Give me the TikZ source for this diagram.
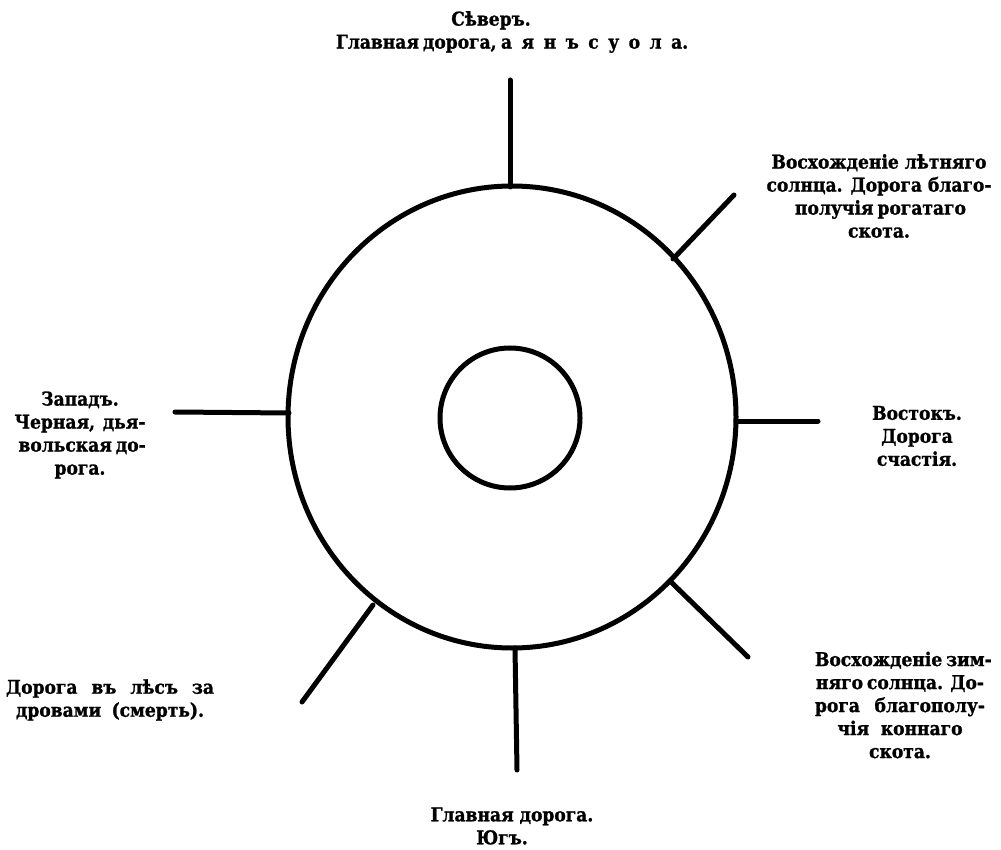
\documentclass[tikz,border=0pt]{standalone}
\usepackage{fontspec}
\setmainfont{DejaVu Serif Condensed}[BoldFeatures={FakeBold=1.2}]
\newcommand{\jline}[2]{\makebox[#1][s]{#2}}
\begin{document}
\begin{tikzpicture}[x=1pt,y=-1pt,
  lbl/.style={font=\fontsize{19}{23}\selectfont\bfseries, align=center, inner sep=0pt},
  road/.style={line width=5pt, line cap=round},
  ring/.style={line width=5pt}]
\useasboundingbox (0,0) rectangle (1001,850);
% circles
\draw[ring] (512,417) ellipse [x radius=224, y radius=231];
\draw[ring] (510,418) circle [radius=70];
% road end points
\coordinate (n1) at (510,187); \coordinate (n2) at (510,80);
\coordinate (ne1) at (673,259); \coordinate (ne2) at (734,195);
\coordinate (e1) at (736,421); \coordinate (e2) at (818,421);
\coordinate (se1) at (670,581); \coordinate (se2) at (748,657);
\coordinate (s1) at (515,648); \coordinate (s2) at (517,770);
\coordinate (sw1) at (373,605); \coordinate (sw2) at (302,702);
\coordinate (w1) at (289,413); \coordinate (w2) at (175,412);
\foreach \a/\b in {n1/n2,ne1/ne2,e1/e2,se1/se2,s1/s2,sw1/sw2,w1/w2}
  \draw[road] (\a) -- (\b);
% labels
\node[lbl] (north) at (511,32) {\hspace*{-40pt}Сѣверъ.\\\jline{350pt}{Главная дорога, а\hspace{.5em}я\hspace{.5em}н\hspace{.5em}ъ\hspace{.5em}с\hspace{.5em}у\hspace{.5em}о\hspace{.5em}л\hspace{.5em}а.}};
\node[lbl] (northeast) at (879,196) {Восхожденіе лѣтняго\\солнца. Дорога благо-\\\jline{168pt}{получія рогатаго}\\скота.};
\node[lbl] (east) at (917,436) {Востокъ.\\Дорога\\счастія.};
\node[lbl] (west) at (80,435) {Западъ.\\\jline{131pt}{Черная, дья-}\\\jline{123pt}{вольская до-}\\рога.};
\node[lbl] (southwest) at (110,700) {\jline{208pt}{Дорога въ лѣсъ за}\\\jline{188pt}{дровами (смерть).}};
\node[lbl] (southeast) at (900,705) {\jline{170pt}{Восхожденіе зим-}\\\jline{168pt}{няго солнца. До-}\\\jline{170pt}{рога благополу-}\\\jline{125pt}{чія коннаго}\\скота.};
\node[lbl] (south) at (512,826) {Главная дорога.\\\hspace*{-20pt}Югъ.};
\end{tikzpicture}
\end{document}
